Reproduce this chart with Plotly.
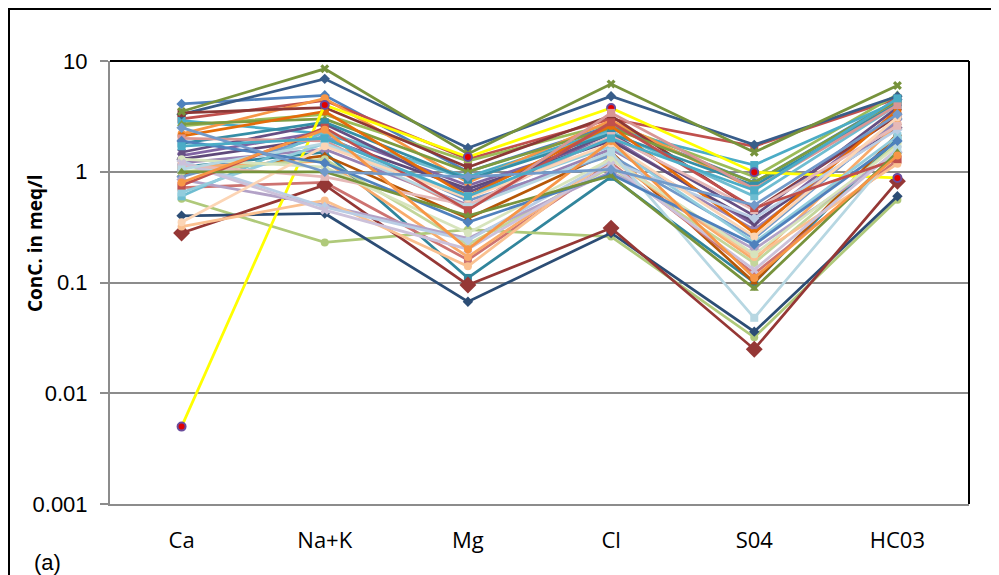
import plotly.graph_objects as go

categories = ["Ca", "Na+K", "Mg", "Cl", "S04", "HC03"]
y_ticks = [0.001, 0.01, 0.1, 1, 10]
y_tick_labels = ["0.001", "0.01", "0.1", "1", "10"]

# Each sample: values for Ca, Na+K, Mg, Cl, S04, HC03 (meq/l)
s01 = [4.1, 4.9, 1.0, 2.6, 0.8, 4.5]
s02 = [3.0, 4.4, 1.3, 3.0, 1.7, 4.6]
s03 = [2.6, 3.3, 1.25, 2.7, 0.9, 5.0]
s04 = [1.4, 2.3, 0.75, 2.0, 0.33, 3.5]
s05 = [2.9, 2.2, 0.9, 2.4, 1.15, 4.3]
s06 = [2.2, 4.6, 0.8, 2.9, 0.7, 4.2]
s07 = [3.3, 6.9, 1.64, 4.8, 1.75, 4.8]
s08 = [3.4, 3.8, 1.1, 3.2, 0.45, 3.2]
s09 = [3.5, 8.5, 1.45, 6.2, 1.5, 6.0]
s10 = [1.3, 2.0, 0.7, 1.9, 0.35, 2.5]
s11 = [1.1, 1.5, 0.11, 0.9, 0.1, 2.0]
s12 = [0.95, 1.4, 0.38, 1.5, 0.1, 2.2]
s13 = [0.9, 2.1, 0.55, 1.4, 0.25, 3.0]
s14 = [0.72, 0.8, 0.16, 1.2, 0.12, 1.28]
s15 = [0.57, 0.23, 0.3, 0.26, 0.032, 0.56]
s16 = [1.2, 1.6, 0.5, 1.6, 0.3, 2.8]
s17 = [0.6, 2.3, 0.85, 2.3, 0.6, 4.0]
s18 = [1.1, 1.25, 0.17, 1.3, 0.16, 2.7]
s19 = [0.4, 0.42, 0.067, 0.28, 0.036, 0.6]
s20 = [0.28, 0.76, 0.095, 0.31, 0.025, 0.82]
s21 = [2.7, 3.0, 1.0, 2.5, 0.8, 4.4]
s22 = [1.5, 2.7, 0.65, 2.2, 0.4, 3.8]
s23 = [1.8, 2.8, 0.85, 2.2, 0.75, 4.1]
s24 = [2.1, 3.5, 0.6, 2.6, 0.28, 3.6]
s25 = [0.005, 4.0, 1.36, 3.77, 0.99, 0.88]
s26 = [2.0, 1.9, 0.45, 3.4, 0.7, 4.0]
s27 = [1.0, 1.3, 0.22, 1.1, 0.15, 1.8]
s28 = [0.85, 0.5, 0.25, 1.0, 0.2, 1.5]
s29 = [0.65, 1.8, 0.6, 1.7, 0.23, 2.1]
s30 = [0.32, 0.55, 0.14, 1.35, 0.17, 1.18]
s31 = [1.25, 0.48, 0.24, 1.25, 0.38, 2.4]
s32 = [1.15, 0.9, 0.5, 2.1, 0.45, 2.6]
s33 = [1.3, 1.1, 0.28, 1.3, 0.18, 1.7]
s34 = [1.2, 0.45, 0.2, 1.15, 0.13, 1.6]
s35 = [1.05, 1.8, 0.48, 1.5, 0.048, 1.6]
s36 = [0.35, 1.7, 0.58, 1.8, 0.26, 3.1]
s37 = [1.9, 1.2, 0.35, 0.95, 0.22, 1.9]
s38 = [0.75, 2.5, 0.45, 2.8, 0.47, 1.3]
s39 = [1.0, 1.0, 0.4, 0.92, 0.088, 1.5]
s40 = [0.8, 2.4, 0.2, 1.9, 0.11, 1.4]
s41 = [2.5, 1.0, 0.9, 1.05, 0.5, 3.3]
s42 = [1.7, 2.0, 0.6, 2.0, 0.68, 4.6]

samples = [s01, s02, s03, s04, s05, s06, s07, s08, s09, s10, s11, s12, s13, s14,
           s15, s16, s17, s18, s19, s20, s21, s22, s23, s24, s25, s26, s27, s28,
           s29, s30, s31, s32, s33, s34, s35, s36, s37, s38, s39, s40, s41, s42]

colors = ["#4F81BD", "#C0504D", "#9BBB59", "#8064A2", "#4BACC6", "#F79646",
          "#385D8A", "#8C3836", "#77933C", "#5F497A", "#31859C", "#B65708",
          "#729ACA", "#CD7371", "#AFC97A", "#9983B5", "#6FBDD1", "#F9AB6B",
          "#2C4D75", "#953735", "#7E9C40", "#664F83", "#358EA6", "#E46C0A",
          "#FFFF00", "#D99694", "#C3D69B", "#B3A2C7", "#93CDDD", "#FAC090",
          "#B9CDE5", "#E6B9B8", "#D7E4BD", "#CCC1DA", "#B7D7E2", "#FCD5B5",
          "#4F81BD", "#C0504D", "#77933C", "#F79646", "#729ACA", "#4BACC6"]
symbols = ["diamond", "square", "triangle-up", "x", "square", "circle",
           "diamond", "square", "x", "diamond", "square", "triangle-up",
           "diamond", "square", "circle", "x", "square", "circle",
           "diamond", "diamond", "triangle-up", "x", "square", "circle",
           "circle", "square", "circle", "diamond", "square", "circle",
           "diamond", "square", "circle", "x", "square", "circle",
           "diamond", "square", "triangle-up", "circle", "diamond", "square"]

fig = go.Figure()
for i, vals in enumerate(samples):
    col = colors[i]
    sym = symbols[i]
    msize = 8
    mcol = col
    mline = dict(width=0)
    if i == 24:  # yellow sample with purple/red markers
        mcol = "#E00000"
        mline = dict(width=2, color="#6A4C9C")
    if i == 19:
        msize = 13
    fig.add_trace(go.Scatter(
        x=categories, y=vals, mode="lines+markers",
        line=dict(color=col, width=2.75),
        marker=dict(symbol=sym, size=msize, color=mcol, line=mline),
        showlegend=False, hoverinfo="skip"))

L, T, PW, PH = 102, 53, 859, 443

fig.update_layout(
    width=999, height=575,
    margin=dict(l=L, r=999 - L - PW, t=T, b=575 - T - PH),
    paper_bgcolor="white", plot_bgcolor="white",
    font=dict(family="Liberation Sans", color="#000000"),
)
fig.update_xaxes(
    type="category", range=[-0.5, 5.5],
    showline=True, linecolor="#8C8C8C", linewidth=2,
    showgrid=False, ticks="", zeroline=False,
    tickfont=dict(family="Open Sans", size=22, color="#000000"),
    ticklabelstandoff=16,
)
fig.update_yaxes(
    type="log", range=[-3, 1],
    tickvals=y_ticks, ticktext=y_tick_labels,
    showline=True, linecolor="#8C8C8C", linewidth=2,
    showgrid=True, gridcolor="#8C8C8C", gridwidth=2,
    ticks="outside", ticklen=8, tickcolor="#8C8C8C", tickwidth=2,
    tickfont=dict(family="Liberation Sans", size=22, color="#000000"),
    ticklabelstandoff=8,
    zeroline=False,
)
# plot-area frame (top/right black)
fig.add_shape(type="line", xref="paper", yref="paper", x0=0, x1=1, y0=1, y1=1,
              line=dict(color="black", width=2))
fig.add_shape(type="line", xref="paper", yref="paper", x0=1, x1=1, y0=0, y1=1,
              line=dict(color="black", width=2))
# outer chart border
fig.add_shape(type="rect", xref="paper", yref="paper",
              x0=(1 - L) / PW, x1=(1020 - L) / PW,
              y0=(T + PH - 620) / PH, y1=1 + (T - 1) / PH,
              line=dict(color="black", width=2))

fig.add_annotation(text="<b>ConC. in meq/l</b>", textangle=-90,
                   xref="paper", yref="paper",
                   x=(27 - L) / PW, y=(T + PH - 235) / PH,
                   showarrow=False, xanchor="center", yanchor="middle",
                   font=dict(family="Open Sans", size=19, color="#000000"))
fig.add_annotation(text="(a)", xref="paper", yref="paper",
                   x=(39 - L) / PW, y=(T + PH - 554) / PH,
                   showarrow=False, xanchor="center", yanchor="middle",
                   font=dict(family="Liberation Sans", size=22, color="#000000"))

fig.write_html("out.html")
